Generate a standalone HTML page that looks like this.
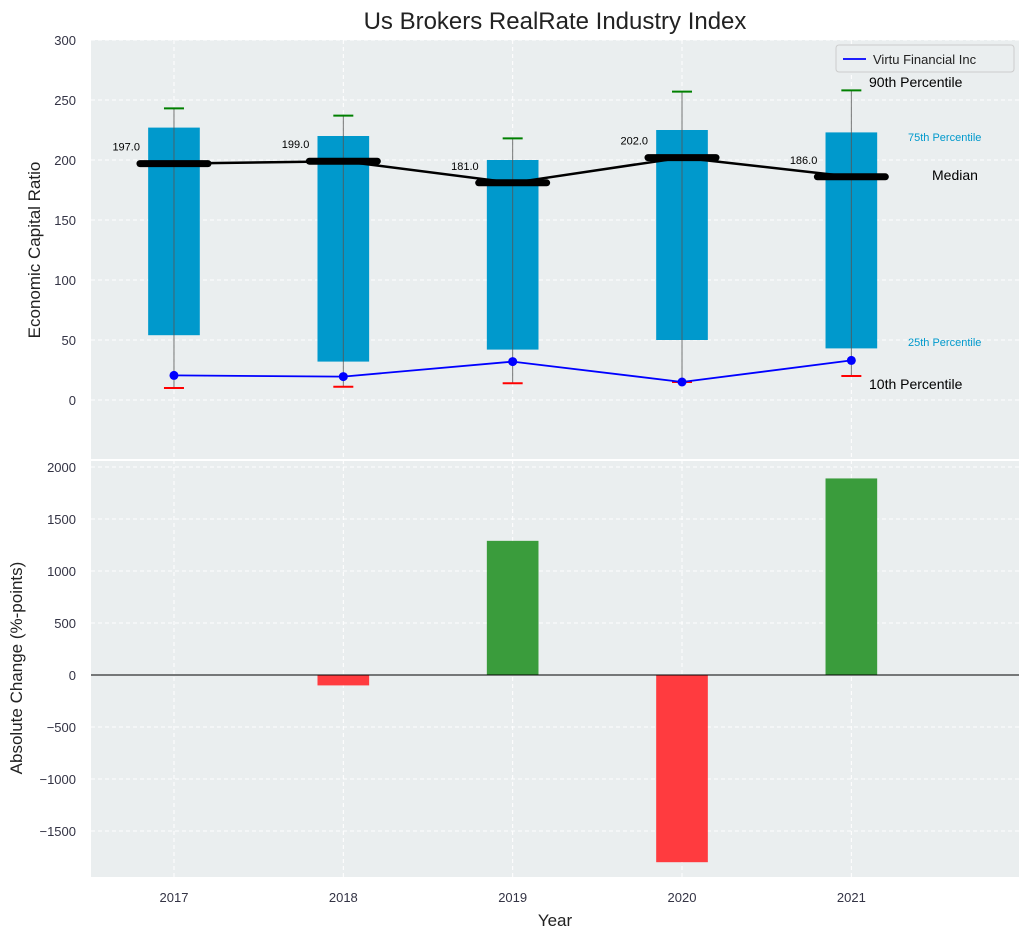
<!DOCTYPE html>
<html><head><meta charset="utf-8"><style>
body{margin:0;background:#fff;font-family:"Liberation Sans",Arial,sans-serif}
svg text{font-family:"Liberation Sans",Arial,sans-serif}
</style></head><body>
<svg id="c" width="1029" height="940" xmlns="http://www.w3.org/2000/svg"></svg>
<script>
const years=[2017,2018,2019,2020,2021];
const p10=[10,11,14,15,20];
const p25=[54,32,42,50,43];
const p50=[197,199,181,202,186];
const p75=[227,220,200,225,223];
const p90=[243,237,218,257,258];
const company=[20.5,19.5,32,15,33];
const changes=[0,-100,1290,-1800,1890];
const topTicks=[0,50,100,150,200,250,300];
const botTicks=[-1500,-1000,-500,0,500,1000,1500,2000];

const NS="http://www.w3.org/2000/svg";
const svg=document.getElementById('c');
function el(t,a,p){const e=document.createElementNS(NS,t);for(const k in a)e.setAttribute(k,a[k]);(p||svg).appendChild(e);return e;}
const L=91,R=1019;
const x=v=>L+(v-2016.51)/(2021.99-2016.51)*(R-L);
const T0=40,T1=460; const yT=v=>400-v*1.2;
const B0=460,B1=877; const yB=v=>675-v*0.104;
const bw=0.305*(x(2018)-x(2017));

// panel backgrounds
let e=el('rect',{x:L,y:T0,width:R-L,height:T1-T0,fill:'#eaeeef'});

e=el('rect',{x:L,y:B0+1,width:R-L,height:B1-B0-1,fill:'#eaeeef'});

el('line',{x1:L,x2:R,y1:B0,y2:B0,stroke:'#fff','stroke-width':2});

// grids
years.forEach(v=>{
 el('line',{x1:x(v),x2:x(v),y1:T0,y2:T1,stroke:'#fff','stroke-dasharray':'4,3'});
 el('line',{x1:x(v),x2:x(v),y1:B0,y2:B1,stroke:'#fff','stroke-dasharray':'4,3'});
 const t=el('text',{x:x(v),y:902,'text-anchor':'middle','font-size':13,fill:'#334'});t.textContent=v;
 
});
topTicks.forEach(v=>{
 el('line',{x1:L,x2:R,y1:yT(v),y2:yT(v),stroke:'#fff','stroke-dasharray':'4,3'});
 const t=el('text',{x:76,y:yT(v)+5,'text-anchor':'end','font-size':13,fill:'#334'});t.textContent=v;
 
});
botTicks.forEach(v=>{
 el('line',{x1:L,x2:R,y1:yB(v),y2:yB(v),stroke:'#fff','stroke-dasharray':'4,3'});
 const t=el('text',{x:76,y:yB(v)+5,'text-anchor':'end','font-size':13,fill:'#334'});t.textContent=(v<0?'\u2212'+(-v):v);
 
});

// boxes
years.forEach((v,i)=>{
 const b=el('rect',{x:x(v)-bw/2,y:yT(p75[i]),width:bw,height:yT(p25[i])-yT(p75[i]),fill:'#0099cc'});
 
 el('line',{x1:x(v),x2:x(v),y1:yT(p90[i]),y2:yT(p10[i]),stroke:'#555','stroke-width':1,opacity:0.8});
 const g=el('line',{x1:x(v)-10,x2:x(v)+10,y1:yT(p90[i]),y2:yT(p90[i]),stroke:'green','stroke-width':2});
 
 const r=el('line',{x1:x(v)-10,x2:x(v)+10,y1:yT(p10[i]),y2:yT(p10[i]),stroke:'red','stroke-width':2});
 
});
// median line
let d=years.map((v,i)=>(i?'L':'M')+x(v)+','+yT(p50[i])).join('');
e=el('path',{d:d,fill:'none',stroke:'#000','stroke-width':2.5});

years.forEach((v,i)=>{
 const m=el('line',{x1:x(v)-34,x2:x(v)+34,y1:yT(p50[i]),y2:yT(p50[i]),stroke:'#000','stroke-width':7,'stroke-linecap':'round'});
 
 const t=el('text',{x:x(v)-34,y:yT(p50[i])-13,'text-anchor':'end','font-size':11,fill:'#000'});t.textContent=p50[i].toFixed(1);
 
});
// company
d=years.map((v,i)=>(i?'L':'M')+x(v)+','+yT(company[i])).join('');
e=el('path',{d:d,fill:'none',stroke:'blue','stroke-width':1.8});

years.forEach((v,i)=>{const c=el('circle',{cx:x(v),cy:yT(company[i]),r:4.5,fill:'blue'});
 });

// percentile labels
[['90th Percentile',869,87,14,'#000'],['75th Percentile',908,141,11,'#0099cc'],['Median',932,180,14,'#000'],['25th Percentile',908,346,11,'#0099cc'],['10th Percentile',869,389,14,'#000']].forEach(a=>{
 const t=el('text',{x:a[1],y:a[2],'font-size':a[3],fill:a[4]});t.textContent=a[0];
 
});

// legend
e=el('rect',{x:836,y:45,width:178,height:27,rx:3,fill:'#eaeeef',stroke:'#ccc'});

el('line',{x1:843,x2:866,y1:59,y2:59,stroke:'blue','stroke-width':1.8});
e=el('text',{x:873,y:64,'font-size':13,fill:'#222'});e.textContent='Virtu Financial Inc';


// bottom bars
years.forEach((v,i)=>{
 const c=changes[i];
 const b=el('rect',{x:x(v)-bw/2,y:Math.min(yB(c),yB(0)),width:bw,height:Math.abs(yB(c)-yB(0)),fill:c>=0?'#3a9c3c':'#ff3b3f'});
 
});
el('line',{x1:L,x2:R,y1:yB(0),y2:yB(0),stroke:'#000','stroke-width':1});

// titles
e=el('text',{x:555,y:29,'text-anchor':'middle','font-size':24,fill:'#222'});e.textContent='Us Brokers RealRate Industry Index';

e=el('text',{x:555,y:926,'text-anchor':'middle','font-size':17,fill:'#222'});e.textContent='Year';

e=el('text',{x:0,y:0,'text-anchor':'middle','font-size':17,fill:'#222',transform:'translate(40,250) rotate(-90)'});e.textContent='Economic Capital Ratio';

e=el('text',{x:0,y:0,'text-anchor':'middle','font-size':17,fill:'#222',transform:'translate(22,668) rotate(-90)'});e.textContent='Absolute Change (%-points)';

</script>
</body></html>
